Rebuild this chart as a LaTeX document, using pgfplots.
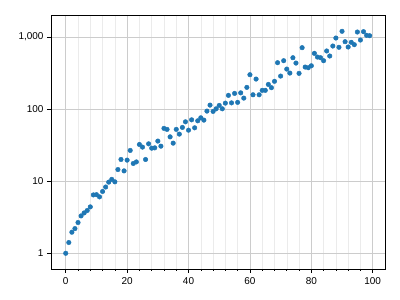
\documentclass[border=0pt]{standalone}
\usepackage{pgfplots}
\pgfplotsset{compat=1.18}
\usepackage{fontspec}
\setmainfont{Liberation Sans}
\definecolor{pt}{HTML}{1F77B4}
\begin{document}
\begin{tikzpicture}
\begin{axis}[
  at={(0,0)}, anchor=south west,
  scale only axis, width=334bp, height=254bp,
  xmin=-4.8, xmax=104.0,
  ymode=log, ymin=0.605, ymax=2020,
  xtick={0,20,40,60,80,100},
  minor x tick num=4,
  ytick={1,10,100,1000},
  yticklabels={1,10,100,{1,000}},
  log basis y=10,
  grid=both,
  major grid style={draw=black!20, line width=0.6pt},
  minor grid style={draw=black!8, line width=0.5pt},
  axis line style={black, line width=0.8pt},
  tick style={black, line width=0.6pt},
  major tick length=4bp, minor tick length=2bp,
  tick align=outside,
  xtick pos=bottom, ytick pos=left,
  tick label style={font=\fontsize{10}{12}\selectfont},
  /pgf/number format/assume math mode=true,
  xticklabel style={yshift=-1bp},
]
\addplot[only marks, mark=*, mark size=2.3bp, color=pt, mark options={draw=pt, fill=pt}] coordinates {
(0,1.0) (1,1.41) (2,1.96) (3,2.2) (4,2.67) (5,3.3) (6,3.63) (7,3.92) (8,4.4) (9,6.45)
(10,6.5) (11,6.06) (12,7.2) (13,8.3) (14,9.7) (15,10.6) (16,9.8) (17,14.5) (18,20) (19,13.9)
(20,19.6) (21,26.7) (22,17.6) (23,18.5) (24,32.3) (25,29.7) (26,20) (27,33) (28,28.7) (29,29)
(30,36) (31,30.6) (32,54) (33,52.3) (34,41.2) (35,33.7) (36,52.3) (37,45) (38,55.7) (39,66.6)
(40,51) (41,71) (42,55) (43,68.8) (44,75.7) (45,70.3) (46,93.8) (47,113.6) (48,92.9) (49,101)
(50,112.5) (51,101) (52,121) (53,155) (54,122) (55,165) (56,124) (57,168) (58,142) (59,200)
(60,300) (61,158) (62,261) (63,158) (64,182) (65,182) (66,220) (67,198) (68,243) (69,440)
(70,287) (71,469) (72,359) (73,316) (74,516) (75,435) (76,313) (77,711) (78,383) (79,375)
(80,399) (81,593) (82,527) (83,516) (84,469) (85,640) (86,545) (87,750) (88,968) (89,720)
(90,1200) (91,861) (92,727) (93,844) (94,783) (95,1173) (96,908) (97,1186) (98,1056) (99,1042)
};
\end{axis}
\pgfresetboundingbox
\path (-51bp,-31bp) rectangle (349bp,269bp);
\end{tikzpicture}
\end{document}
